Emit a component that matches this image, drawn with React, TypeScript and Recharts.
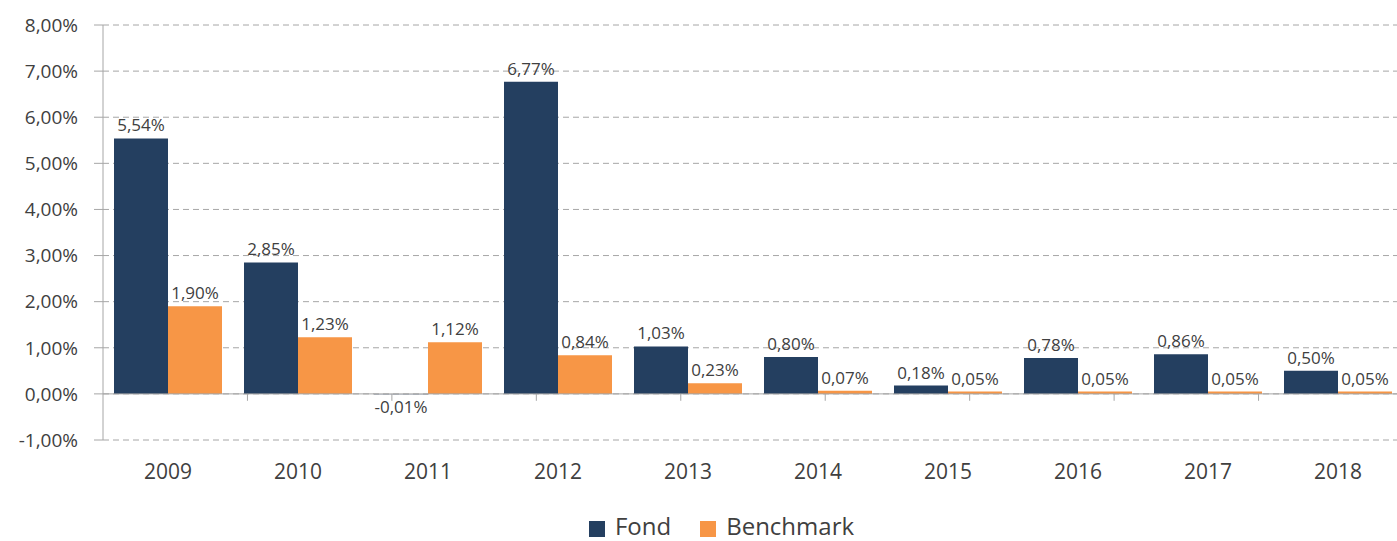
import {
  BarChart, Bar, XAxis, YAxis, CartesianGrid, Legend, LabelList, ReferenceLine
} from 'recharts'

const years = ['2009', '2010', '2011', '2012', '2013', '2014', '2015', '2016', '2017', '2018']
const fond = [5.54, 2.85, -0.01, 6.77, 1.03, 0.80, 0.18, 0.78, 0.86, 0.50]
const benchmark = [1.90, 1.23, 1.12, 0.84, 0.23, 0.07, 0.05, 0.05, 0.05, 0.05]
const yTicks = [-1, 0, 1, 2, 3, 4, 5, 6, 7, 8]
const boundaries = [1, 2, 3, 4, 5, 6, 7, 8, 9, 10]

const data = years.map((year, i) => ({ year, fond: fond[i], benchmark: benchmark[i] }))

const FONT = '"Open Sans", sans-serif'
const NAVY = '#243f60'
const ORANGE = '#f79646'
const AXIS = '#a6a6a6'

const pct = (v: number) => v.toFixed(2).replace('.', ',') + '%'

const LegendBox = () => (
  <div style={{
    height: 40, boxSizing: 'border-box', paddingTop: 10, paddingLeft: 40,
    display: 'flex', justifyContent: 'center', fontFamily: FONT, fontSize: 24,
    lineHeight: '26px', color: '#404040'
  }}>
    {[['Fond', NAVY], ['Benchmark', ORANGE]].map(([name, color], i) => (
      <div key={name} style={{ display: 'flex', alignItems: 'center', marginLeft: i ? 29 : 0 }}>
        <span style={{ width: 16, height: 16, background: color, marginRight: 10, marginTop: 5 }} />
        <span>{name}</span>
      </div>
    ))}
  </div>
)

export default function App() {
  return (
    <div style={{ position: 'fixed', left: 0, top: 0, width: 1397, height: 541, overflow: 'hidden', background: '#fff' }}>
      <BarChart
        width={1403} height={541} data={data}
        margin={{ top: 25, right: 0, left: 0, bottom: 0 }}
        barCategoryGap={11} barGap={0}
      >
        <CartesianGrid vertical={false} stroke={AXIS} strokeDasharray="6 4" />
        <XAxis
          dataKey="year" axisLine={false} tickLine={false} height={61}
          tickSize={6} tickMargin={18}
          tick={{ fill: '#404040', fontSize: 21, fontFamily: FONT }}
        />
        <XAxis xAxisId="n" type="number" domain={[0, 10]} hide />
        <YAxis
          domain={[-1, 8]} ticks={yTicks} width={103} tickFormatter={pct}
          axisLine={{ stroke: AXIS }} tickLine={{ stroke: AXIS }} tickSize={9} tickMargin={16}
          tick={{ fill: '#404040', fontSize: 19, fontFamily: FONT }}
        />
        <ReferenceLine y={0} stroke={AXIS} />
        {boundaries.map((b) => (
          <ReferenceLine key={b} xAxisId="n" stroke={AXIS}
            segment={[{ x: b, y: 0 }, { x: b, y: -0.15 }]} />
        ))}
        <Legend verticalAlign="bottom" content={<LegendBox />} />
        <Bar dataKey="fond" name="Fond" fill={NAVY} isAnimationActive={false}>
          <LabelList dataKey="fond" position="top" offset={7} formatter={(v: any) => pct(Number(v))}
            style={{ fill: '#404040', fontSize: 17, fontFamily: FONT }} />
        </Bar>
        <Bar dataKey="benchmark" name="Benchmark" fill={ORANGE} isAnimationActive={false}>
          <LabelList dataKey="benchmark" position="top" offset={7} formatter={(v: any) => pct(Number(v))}
            style={{ fill: '#404040', fontSize: 17, fontFamily: FONT }} />
        </Bar>
      </BarChart>
    </div>
  )
}
